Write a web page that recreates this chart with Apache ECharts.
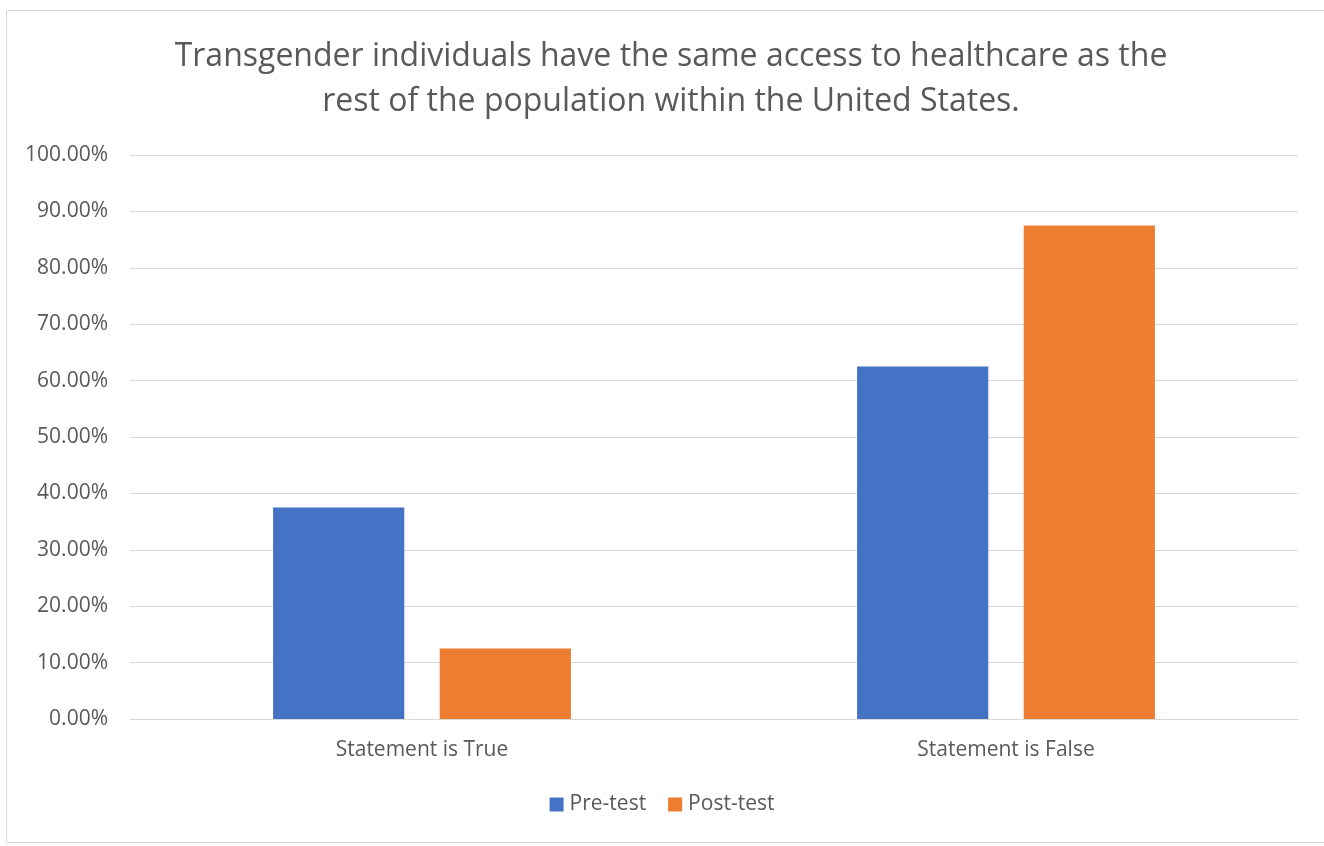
<!DOCTYPE html>
<html>
<head>
<meta charset="utf-8">
<style>
  html, body { margin: 0; padding: 0; background: #fff; }
  #chart { width: 1324px; height: 846px; }
</style>
<script src="https://cdn.jsdelivr.net/npm/echarts@6/dist/echarts.min.js"></script>
</head>
<body>
<div id="chart"></div>
<script>
// Survey responses (share of respondents) before and after the session
const categories = ['Statement is True', 'Statement is False'];
const preTest = [37.5, 62.5];
const postTest = [12.5, 87.5];
const seriesNames = ['Pre-test', 'Post-test'];

const textColor = '#595959';
const fontFamily = '"Open Sans", "Liberation Sans", sans-serif';

const chart = echarts.init(document.getElementById('chart'), null, { renderer: 'canvas' });

chart.setOption({
  backgroundColor: '#fff',
  animation: false,
  graphic: [{
    type: 'rect',
    shape: { x: 6.5, y: 10.5, width: 1330, height: 832 },
    style: { fill: 'none', stroke: '#d9d9d9', lineWidth: 1 },
    silent: true
  }],
  title: {
    text: 'Transgender individuals have the same access to healthcare as the\nrest of the population within the United States.',
    left: 666,
    textAlign: 'center',
    top: 29,
    textStyle: {
      color: textColor,
      fontFamily: fontFamily,
      fontWeight: 'normal',
      fontSize: 32,
      lineHeight: 45
    }
  },
  legend: {
    data: seriesNames,
    bottom: 26,
    left: 'center',
    itemWidth: 14,
    itemHeight: 14,
    itemGap: 22,
    icon: 'rect',
    textStyle: { color: textColor, fontFamily: fontFamily, fontSize: 21, padding: [0, 0, 0, 1] }
  },
  grid: {
    left: 130,
    right: 26,
    top: 155,
    bottom: 127,
    containLabel: false
  },
  xAxis: {
    type: 'category',
    data: categories,
    axisLine: { show: true, lineStyle: { color: '#d9d9d9', width: 1 } },
    axisTick: { show: false },
    axisLabel: {
      color: textColor,
      fontFamily: fontFamily,
      fontSize: 21,
      margin: 21
    }
  },
  yAxis: {
    type: 'value',
    min: 0,
    max: 100,
    interval: 10,
    axisLine: { show: false },
    axisTick: { show: false },
    splitLine: { lineStyle: { color: '#d9d9d9', width: 1 } },
    axisLabel: {
      color: textColor,
      fontFamily: fontFamily,
      fontSize: 21,
      margin: 22,
      formatter: v => v.toFixed(2) + '%'
    }
  },
  series: [
    {
      name: seriesNames[0],
      type: 'bar',
      data: preTest,
      barGap: '27%',
      barCategoryGap: '49%',
      itemStyle: { color: '#4472c4' }
    },
    {
      name: seriesNames[1],
      type: 'bar',
      data: postTest,
      itemStyle: { color: '#ed7d31' }
    }
  ]
});
</script>
</body>
</html>
